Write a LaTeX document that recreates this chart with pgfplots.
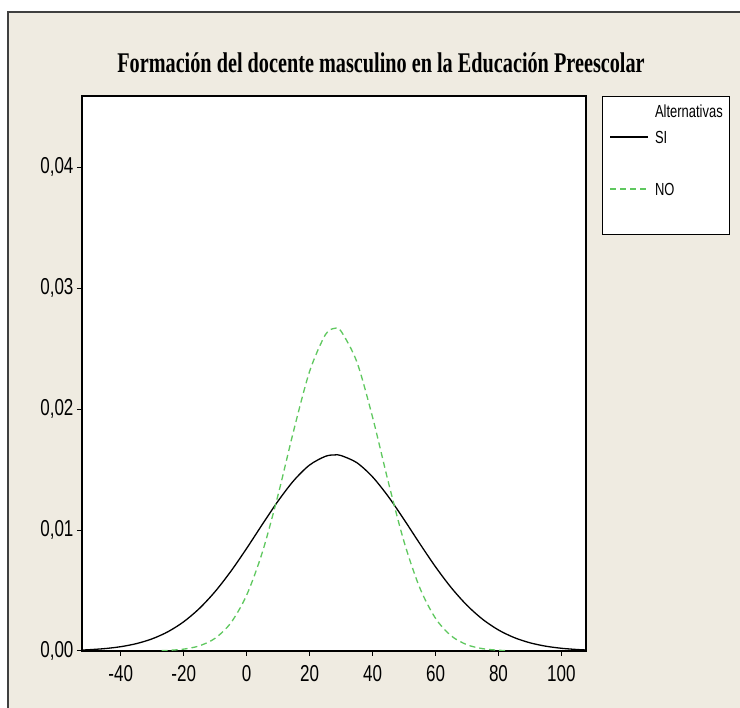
\documentclass[border=0pt]{standalone}
\usepackage{fontspec}
\usepackage{pgfplots}
\pgfplotsset{compat=1.18}
\setmainfont{Liberation Sans}
\newfontfamily\narrowsans[FakeStretch=0.74]{Liberation Sans}
\newfontfamily\titlefont[FakeStretch=0.71]{Liberation Serif Bold}
\definecolor{bgbeige}{HTML}{EFEBE1}
\definecolor{nogreen}{HTML}{5FC85F}

\begin{document}
\begin{tikzpicture}[x=1pt,y=1pt]
\path[use as bounding box] (0,0) rectangle (740,708);
\fill[bgbeige] (8,-10) rectangle (750,696);
\draw[line width=2pt, black!75] (8,-10) -- (8,696) -- (750,696);
\node[anchor=base, font=\titlefont\fontsize{28.5}{30}\selectfont] at (381,635)
  {Formación del docente masculino en la Educación Preescolar};
\begin{axis}[
    at={(82pt,57pt)}, anchor=south west,
    scale only axis, width=504pt, height=555pt,
    axis background/.style={fill=white},
    xmin=-52.3, xmax=107.8, ymin=0, ymax=0.0459,
    xtick={-40,-20,0,20,40,60,80,100},
    ytick={0,0.01,0.02,0.03,0.04},
    tick align=outside, tick pos=left, major tick length=5pt,
    axis line style={line width=1.2pt},
    tick style={black, line width=1pt},
    scaled y ticks=false,
    /pgf/number format/assume math mode=true,
    ticklabel style={font=\narrowsans\fontsize{23}{25}\selectfont},
    xticklabel style={yshift=-6pt},
    yticklabel style={/pgf/number format/.cd, fixed, fixed zerofill, precision=2, use comma},
    legend style={at={(1.0317,1.0)}, anchor=north west, draw=black, line width=1.2pt,
        fill=white, inner xsep=7pt, inner ysep=10.5pt, row sep=13pt, column sep=6pt,
        font=\narrowsans\fontsize{17.5}{19}\selectfont,
        nodes={inner sep=0pt, text height=10pt, text depth=3pt}},
    legend cell align=left,
    legend image code/.code={\path (0pt,0pt); \draw[#1, line width=1.5pt] (0pt,2.5pt) -- (38pt,2.5pt);},
]
\addlegendimage{empty legend}
\addlegendentry{Alternativas\hspace{11pt}}

% SI
\addplot[black, line width=1.3pt, smooth] coordinates {
(-52,0.0000819) (-50,0.0001063) (-45,0.0001985) (-40,0.0003555) (-35,0.0006106)
(-30,0.0010068) (-25,0.0015924) (-20,0.0024172) (-15,0.0035199) (-10,0.0049186)
(-5,0.0065950) (0,0.0084849) (5,0.0104749) (10,0.0124078) (15,0.0141036)
(20,0.0153818) (25,0.0160968) (28,0.0162170) (30,0.0161635) (35,0.0155737)
(40,0.0143979) (45,0.0127722) (50,0.0108719) (55,0.0088793) (60,0.0069587)
(65,0.0052329) (70,0.0037755) (75,0.0026138) (80,0.0017365) (85,0.0011072)
(90,0.0006772) (95,0.0003975) (100,0.0002238) (105,0.0001209) (108,0.0000819)
};
\addlegendentry{SI}

\addlegendimage{empty legend}
\addlegendentry{}

% NO
\addplot[nogreen, line width=1.3pt, dash pattern=on 6pt off 4pt, smooth] coordinates {
(-27,0.0000308) (-25,0.0000498) (-20,0.0001541) (-15,0.0004264) (-10,0.0010550)
(-5,0.0023350) (0,0.0046192) (5,0.0081720) (10,0.0129270) (15,0.0182850)
(20,0.0231250) (25,0.0261530) (28,0.0266850) (30,0.0264470) (35,0.0239150)
(40,0.0193370) (45,0.0139790) (50,0.0090372) (55,0.0052233) (60,0.0027000)
(65,0.0012477) (70,0.0005157) (75,0.0001905) (80,0.0000630) (83,0.0000308)
};
\addlegendentry{NO}

\addlegendimage{empty legend}
\addlegendentry{}
\end{axis}
\end{tikzpicture}
\end{document}
